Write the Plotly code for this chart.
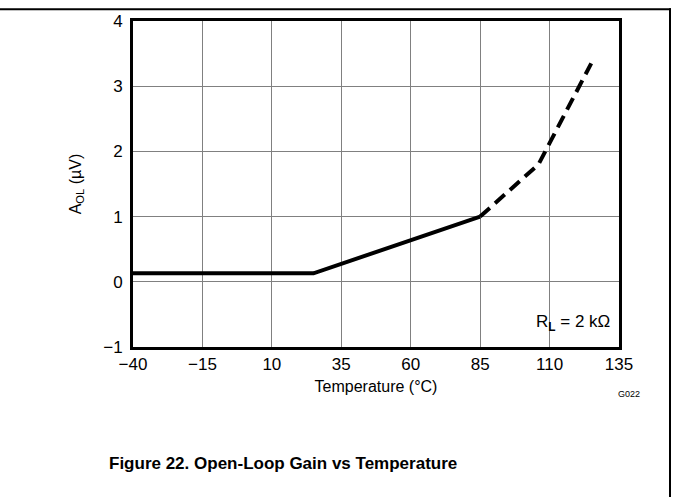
import plotly.graph_objects as go

# Data
temp_solid = [-40, 25, 85]
gain_solid = [0.13, 0.13, 1.0]
temp_dash = [85, 106, 125]
gain_dash = [1.0, 1.8, 3.35]

x_ticks = [-40, -15, 10, 35, 60, 85, 110, 135]
x_ticklabels = ["\u221240", "\u221215", "10", "35", "60", "85", "110", "135"]
y_ticks = [-1, 0, 1, 2, 3, 4]
y_ticklabels = ["\u22121", "0", "1", "2", "3", "4"]

FONT = "Liberation Sans, Arial, sans-serif"

fig = go.Figure()
fig.add_trace(go.Scatter(x=temp_solid, y=gain_solid, mode="lines",
                         line=dict(color="black", width=4), showlegend=False))
fig.add_trace(go.Scatter(x=temp_dash, y=gain_dash, mode="lines",
                         line=dict(color="black", width=4, dash="13px,7px"),
                         showlegend=False))

PLOT_W, PLOT_H, PLOT_L, PLOT_B = 486, 330, 133, 347


def px_x(p):
    return (p - PLOT_L) / PLOT_W


def px_y(p):
    return (PLOT_B - p) / PLOT_H


fig.update_layout(
    width=673, height=497,
    margin=dict(l=133, r=54, t=17, b=150),
    paper_bgcolor="white", plot_bgcolor="white",
    font=dict(family=FONT, size=17, color="black"),
    xaxis=dict(range=[-40, 135], tickvals=x_ticks, ticktext=x_ticklabels,
               showgrid=True, gridcolor="#808080", gridwidth=1,
               showline=True, linecolor="black", linewidth=3, mirror=True,
               zeroline=False, ticks="",
               title=dict(text="Temperature (\u00b0C)", standoff=8,
                          font=dict(size=16))),
    yaxis=dict(range=[-1, 4], tickvals=y_ticks, ticktext=y_ticklabels,
               showgrid=True, gridcolor="#808080", gridwidth=1,
               showline=True, linecolor="black", linewidth=3, mirror=True,
               zeroline=False, ticks="", ticklabelstandoff=4,
               title=dict(text="A<sub>OL</sub> (\u00b5V)", standoff=18,
                          font=dict(size=16))),
    annotations=[
        dict(text="R<sub><b>L</b></sub> = 2 k\u03a9", xref="paper", yref="paper",
             x=0.985, y=0.035, xanchor="right", yanchor="bottom",
             showarrow=False, font=dict(size=17)),
        dict(text="G022", xref="paper", yref="paper",
             x=px_x(642), y=px_y(395), xanchor="right", yanchor="middle",
             showarrow=False, font=dict(size=9)),
        dict(text="<b>Figure 22. Open-Loop Gain vs Temperature</b>",
             xref="paper", yref="paper", x=px_x(283), y=px_y(465),
             xanchor="center", yanchor="middle", showarrow=False,
             font=dict(size=17)),
    ],
    shapes=[
        dict(type="rect", xref="paper", yref="paper", layer="above",
             x0=px_x(0), x1=px_x(671), y0=px_y(6), y1=px_y(4),
             fillcolor="black", line=dict(width=0)),
        dict(type="rect", xref="paper", yref="paper", layer="above",
             x0=px_x(669), x1=px_x(671), y0=px_y(500), y1=px_y(4),
             fillcolor="black", line=dict(width=0)),
    ],
)

fig.write_html("out.html", config={"displayModeBar": False},
               post_script="document.body.style.margin='0';document.body.style.padding='0';")
